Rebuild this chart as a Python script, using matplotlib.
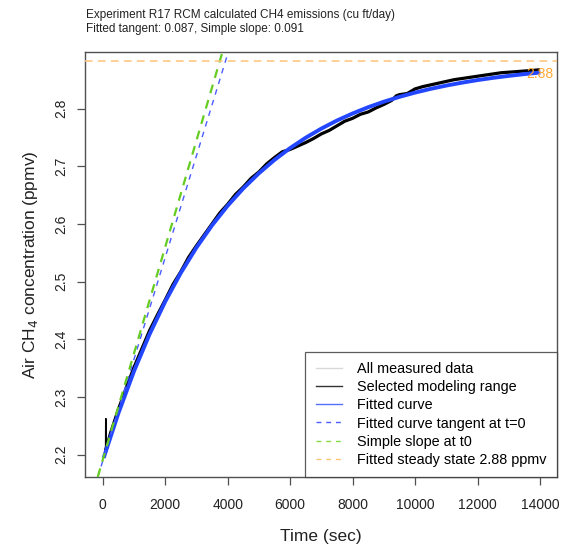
import matplotlib
matplotlib.use("Agg")
import matplotlib.pyplot as plt
from matplotlib.lines import Line2D

plt.rcParams['font.family'] = ['Liberation Sans', 'DejaVu Sans']

# ---------------- data ----------------
title_lines = ["Experiment R17 RCM calculated CH4 emissions (cu ft/day)",
               "Fitted tangent: 0.087, Simple slope: 0.091"]

# all measured data (sec, ppmv)
all_time = [0, 30, 50, 95, 100, 105, 150, 250, 500, 750, 1000, 1250, 1500, 1750,
            2000, 2250, 2500, 2750, 3000, 3250, 3500, 3750, 4000, 4250, 4500,
            4750, 5000, 5250, 5500, 5750, 6000, 6250, 6500, 6750, 7000, 7250,
            7500, 7750, 8000, 8250, 8500, 8750, 9000, 9250, 9400, 9500, 9750,
            10000, 10250, 10500, 10750, 11000, 11250, 11500, 11750, 12000,
            12250, 12500, 12750, 13000, 13250, 13500, 13750, 13950]
all_conc = [2.196, 2.198, 2.200, 2.205, 2.262, 2.210, 2.218, 2.237, 2.278, 2.315,
            2.351, 2.383, 2.415, 2.442, 2.468, 2.495, 2.517, 2.542, 2.562, 2.581,
            2.600, 2.619, 2.634, 2.651, 2.664, 2.679, 2.690, 2.704, 2.715, 2.725,
            2.729, 2.735, 2.741, 2.748, 2.756, 2.762, 2.770, 2.778, 2.783, 2.790,
            2.794, 2.801, 2.807, 2.814, 2.822, 2.824, 2.826, 2.834, 2.838, 2.841,
            2.844, 2.847, 2.850, 2.852, 2.854, 2.856, 2.858, 2.860, 2.862, 2.863,
            2.864, 2.865, 2.866, 2.867]
selected_start = 2          # index where the selected modelling range begins
spike_end = 6               # the short start-up spike within the selected range

# fitted curve (sec, ppmv)
fit_time = [50, 500, 1000, 1500, 2000, 2500, 3000, 3500, 4000, 4500, 5000, 5500,
            6000, 6500, 7000, 7500, 8000, 8500, 9000, 9500, 10000, 10500, 11000,
            11500, 12000, 12500, 13000, 13500, 13950]
fit_conc = [2.1973, 2.2714, 2.3443, 2.4086, 2.4651, 2.5149, 2.5588, 2.5974,
            2.6314, 2.6614, 2.6877, 2.7109, 2.7314, 2.7494, 2.7652, 2.7792,
            2.7914, 2.8023, 2.8118, 2.8202, 2.8276, 2.8341, 2.8398, 2.8448,
            2.8493, 2.8532, 2.8566, 2.8597, 2.8621]

tangent_intercept = 2.1885     # ppmv at t=0
tangent_slope = 1.765e-4       # ppmv / sec
simple_intercept = 2.1905
simple_slope = 1.846e-4
steady_state = 2.882
steady_label = "2.88"
steady_label_pos = (13980, 2.859)

legend_labels = ["All measured data", "Selected modeling range", "Fitted curve",
                 "Fitted curve tangent at t=0", "Simple slope at t0",
                 "Fitted steady state 2.88 ppmv"]

x_ticks = [0, 2000, 4000, 6000, 8000, 10000, 12000, 14000]
y_ticks = [2.2, 2.3, 2.4, 2.5, 2.6, 2.7, 2.8]

# ---------------- colours ----------------
c_all = '#d9d9d9'
c_sel = 'black'
c_fit = '#2346ff'
c_tan = '#4a5cff'
c_simple = '#66cc22'
c_steady = '#ffc47a'
c_steady_txt = '#ffa733'
frame_col = '#505050'

# ---------------- figure ----------------
W, H = 562, 553
fig = plt.figure(figsize=(W / 100, H / 100), dpi=100)
ax = fig.add_axes([85 / W, 1 - 477 / H, (557 - 85) / W, (477 - 52) / H])

ax.plot(all_time, all_conc, color=c_all, lw=1, zorder=1)
ax.plot(all_time[selected_start:spike_end + 1], all_conc[selected_start:spike_end + 1],
        color=c_sel, lw=1.2, zorder=2)
ax.plot(all_time[spike_end - 1:], all_conc[spike_end - 1:], color=c_sel,
        lw=2.3, zorder=2)
ax.plot(fit_time, fit_conc, color=c_fit, lw=2.8, zorder=3)
ax.axline((0, tangent_intercept), slope=tangent_slope, color=c_tan, lw=1.0,
          dashes=(4, 4), zorder=4)
ax.axline((0, simple_intercept), slope=simple_slope, color=c_simple, lw=1.6,
          dashes=(4, 3.2), zorder=4)
ax.axhline(steady_state, color=c_steady, lw=1.1, dashes=(5, 3.5), zorder=4)
ax.text(steady_label_pos[0], steady_label_pos[1], steady_label, color=c_steady_txt,
        fontsize=10, ha='center', va='center', zorder=5)

ax.set_xlim(-567, 14544)
ax.set_ylim(2.161, 2.898)
ax.set_xticks(x_ticks)
ax.set_xticklabels([str(v) for v in x_ticks])
ax.set_yticks(y_ticks)
ax.set_yticklabels([f"{v:.1f}" for v in y_ticks], rotation=90, va='center')
ax.tick_params(axis='both', labelsize=10, length=6, width=0.9, color=frame_col,
               labelcolor='#222222')
ax.tick_params(axis='x', pad=9)
ax.tick_params(axis='y', pad=6)
for s in ax.spines.values():
    s.set_color(frame_col)
    s.set_linewidth(1.0)

ax.set_xlabel("Time (sec)", fontsize=12.5, labelpad=12, color='#222222')
ax.set_ylabel("Air CH$_4$ concentration (ppmv)", fontsize=12.5, labelpad=10,
              color='#222222')

fig.text(86 / W, 1 - 9 / H, "\n".join(title_lines), fontsize=8.5, ha='left',
         va='top', linespacing=1.2, color='#222222')

handles = [Line2D([], [], color=c_all, lw=1.0),
           Line2D([], [], color='#333333', lw=1.0),
           Line2D([], [], color='#5570ff', lw=1.0),
           Line2D([], [], color=c_tan, lw=1.0, dashes=(3.5, 3.5)),
           Line2D([], [], color='#88dd44', lw=1.0, dashes=(3.5, 3.5)),
           Line2D([], [], color=c_steady, lw=1.0, dashes=(3.5, 3.5))]
leg = ax.legend(handles, legend_labels, loc='lower right', bbox_to_anchor=(1, 0),
                borderaxespad=0, fontsize=10.4, frameon=True, fancybox=False,
                handlelength=1.83, handletextpad=1.05, borderpad=0.72,
                labelspacing=0.28)
leg.get_frame().set_edgecolor('#333333')
leg.get_frame().set_linewidth(0.9)
leg.set_zorder(10)

fig.savefig("out.png", dpi=100)
